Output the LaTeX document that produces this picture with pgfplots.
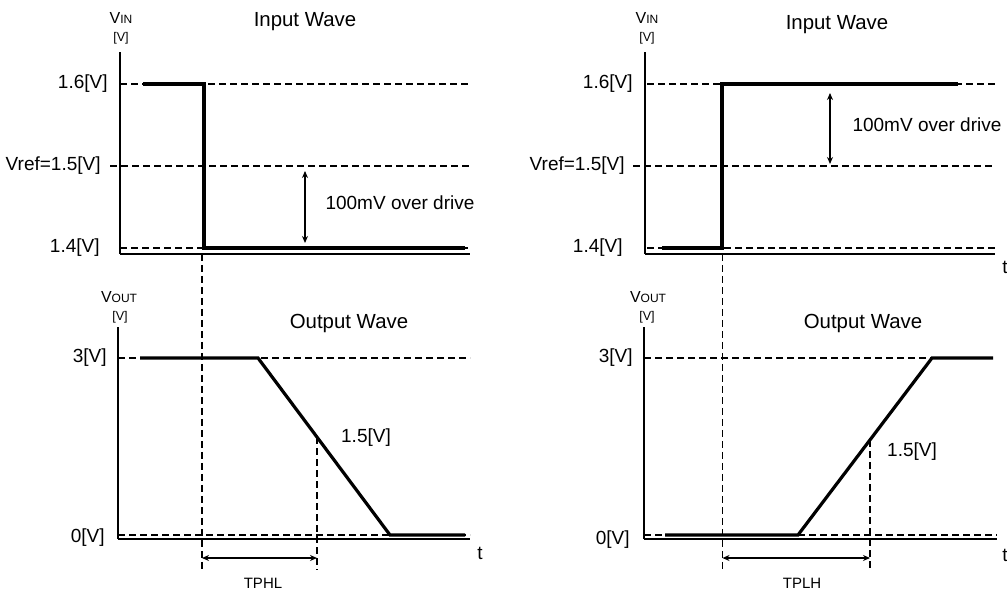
\documentclass[border=0pt]{standalone}
\usepackage{pgfplots}
\pgfplotsset{compat=1.18}
\usetikzlibrary{arrows.meta}
\usepackage{fontspec}
\setmainfont{Liberation Sans}
\newcommand{\mainf}{\fontsize{9.5}{11}\selectfont}
\newcommand{\titlef}{\fontsize{10.2}{12}\selectfont}
\newcommand{\smallf}{\fontsize{7.5}{9}\selectfont}
\newcommand{\Vbig}{\fontsize{8}{9}\selectfont}
\newcommand{\Vsub}{\fontsize{6}{7}\selectfont}
\newcommand{\Vunit}{\fontsize{6.3}{7}\selectfont}
\begin{document}
\begin{tikzpicture}[font=\mainf]
\path[use as bounding box] (0,0) rectangle (503.5pt,296.5pt);
\pgfplotsset{
  panel/.style={scale only axis, anchor=south west, axis x line=bottom, axis y line=left,
    axis line style={-, line width=0.8pt, black}, xtick=\empty, ytick=\empty, clip=false},
  wave/.style={black, line width=1.6pt, no marks},
  guide/.style={black, line width=0.65pt, dash pattern=on 3.5pt off 2pt, no marks},
  dim/.style={black, line width=0.9pt, no marks, {Stealth[length=3.5pt,width=3pt]}-{Stealth[length=3.5pt,width=3pt]}},
}
\tikzset{lab/.style={font=\mainf, inner sep=0pt}}

% ---------------- top left: input wave (falling)
\begin{axis}[panel, at={(60pt,169.5pt)}, width=175pt, height=101pt,
  xmin=0, xmax=350, ymin=1.39268, ymax=1.63902]
\addplot[guide] coordinates {(0,1.6)(350,1.6)};
\addplot[guide] coordinates {(-10,1.5)(350,1.5)};
\addplot[guide] coordinates {(0,1.4)(350,1.4)};
\addplot[wave] coordinates {(23,1.6)(84,1.6)(84,1.4)(345,1.4)};
\addplot[dim, shorten <=2.5pt, shorten >=2.5pt] coordinates {(185,1.5)(185,1.4)};
\node[lab, anchor=east] at (axis cs:-12,1.6) {1.6[V]};
\node[lab, anchor=east] at (axis cs:-19,1.5) {Vref=1.5[V]};
\node[lab, anchor=east] at (axis cs:-20,1.4) {1.4[V]};
\node[lab, font=\titlef] at (axis cs:185,1.6756) {Input Wave};
\node[lab] at (axis cs:280,1.4549) {100mV over drive};
\node[lab] at (axis cs:1,1.6805) {{\Vbig V}{\Vsub IN}};
\node[lab] at (axis cs:1,1.6561) {\Vunit [V]};
\end{axis}

% ---------------- bottom left: output wave (falling)
\begin{axis}[panel, at={(59pt,27pt)}, width=176pt, height=106pt,
  xmin=-2, xmax=350, ymin=-0.0678, ymax=3.5254]
\addplot[guide] coordinates {(-2,3)(350,3)};
\addplot[guide] coordinates {(-2,0)(350,0)};
\addplot[guide] coordinates {(82,4.763)(82,-0.593)};
\addplot[guide] coordinates {(197,1.66)(197,-0.593)};
\addplot[wave] coordinates {(20,3)(138,3)(270,0)(345,0)};
\addplot[dim, line width=0.7pt] coordinates {(82,-0.39)(197,-0.39)};
\node[lab, anchor=east] at (axis cs:-13,3) {3[V]};
\node[lab, anchor=east] at (axis cs:-15,-0.05) {0[V]};
\node[lab, font=\titlef] at (axis cs:229,3.593) {Output Wave};
\node[lab] at (axis cs:246,1.644) {1.5[V]};
\node[lab, font=\smallf] at (axis cs:143,-0.814) {TPHL};
\node[lab] at (axis cs:360,-0.305) {t};
\node[lab] at (axis cs:-1,4.034) {{\Vbig V}{\Vsub OUT}};
\node[lab] at (axis cs:0,3.695) {\Vunit [V]};
\end{axis}

% ---------------- top right: input wave (rising)
\begin{axis}[panel, at={(322.5pt,169.5pt)}, width=175pt, height=101pt,
  xmin=0, xmax=350, ymin=1.39268, ymax=1.63902]
\addplot[guide] coordinates {(2,1.6)(350,1.6)};
\addplot[guide] coordinates {(-12,1.5)(350,1.5)};
\addplot[guide] coordinates {(2,1.4)(350,1.4)};
\addplot[wave] coordinates {(17,1.4)(77,1.4)(77,1.6)(313,1.6)};
\addplot[dim, shorten <=1pt, shorten >=4.5pt] coordinates {(185,1.5)(185,1.6)};
\node[lab, anchor=east] at (axis cs:-12,1.6) {1.6[V]};
\node[lab, anchor=east] at (axis cs:-20,1.5) {Vref=1.5[V]};
\node[lab, anchor=east] at (axis cs:-22,1.4) {1.4[V]};
\node[lab, font=\titlef] at (axis cs:192,1.672) {Input Wave};
\node[lab] at (axis cs:282,1.55) {100mV over drive};
\node[lab] at (axis cs:2,1.6805) {{\Vbig V}{\Vsub IN}};
\node[lab] at (axis cs:2,1.6561) {\Vunit [V]};
\node[lab] at (axis cs:360,1.3768) {t};
\end{axis}

% ---------------- bottom right: output wave (rising)
\begin{axis}[panel, at={(322pt,27pt)}, width=176.5pt, height=106pt,
  xmin=-1, xmax=352, ymin=-0.0678, ymax=3.5254]
\addplot[guide] coordinates {(-1,3)(350,3)};
\addplot[guide] coordinates {(-1,0)(352,0)};
\addplot[guide] coordinates {(77.5,4.763)(77.5,-0.593)};
\addplot[guide] coordinates {(225,1.61)(225,-0.593)};
\addplot[wave] coordinates {(20,0)(153,0)(287,3)(348,3)};
\addplot[dim, line width=0.7pt] coordinates {(77.5,-0.39)(225,-0.39)};
\node[lab, anchor=east] at (axis cs:-12,3) {3[V]};
\node[lab, anchor=east] at (axis cs:-15,-0.08) {0[V]};
\node[lab, font=\titlef] at (axis cs:218,3.593) {Output Wave};
\node[lab] at (axis cs:267,1.407) {1.5[V]};
\node[lab, font=\smallf] at (axis cs:157,-0.814) {TPLH};
\node[lab] at (axis cs:360,-0.34) {t};
\node[lab] at (axis cs:3,4.034) {{\Vbig V}{\Vsub OUT}};
\node[lab] at (axis cs:2,3.695) {\Vunit [V]};
\end{axis}
\end{tikzpicture}
\end{document}
